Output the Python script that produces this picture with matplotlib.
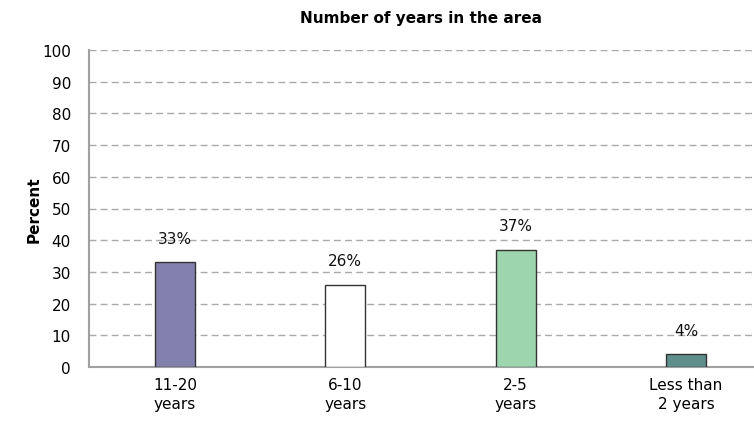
import matplotlib.pyplot as plt
import numpy as np

categories = ["11-20\nyears", "6-10\nyears", "2-5\nyears", "Less than\n2 years"]
percent = [33, 26, 37, 4]
colors = ["#8480ad", "#ffffff", "#9dd5ae", "#5f8f8b"]
yticks = list(range(0, 101, 10))

plt.rcParams["font.family"] = "DejaVu Sans"

fig = plt.figure(figsize=(7.54, 4.27), dpi=100)
ax = fig.add_axes([89 / 754, 1 - 368 / 427, 665 / 754, (368 - 51) / 427])

x = np.arange(len(categories))
bars = ax.bar(x, percent, width=0.235, color=colors, edgecolor="#333333",
              linewidth=1.0, zorder=3)

# value labels sit a little above each bar
for bar, v in zip(bars, percent):
    ax.annotate(f"{v}%", (bar.get_x() + bar.get_width() / 2, v),
                xytext=(0, 12), textcoords="offset points",
                ha="center", va="bottom", fontsize=11, color="#111111")

ax.set_ylim(0, 100)
ax.set_xlim(-0.505, 3.4)
ax.set_yticks(yticks)
ax.set_xticks(x)
ax.set_xticklabels(categories, fontsize=11, linespacing=1.35)
ax.tick_params(axis="both", length=0, labelsize=11)
ax.tick_params(axis="y", pad=13)
ax.tick_params(axis="x", pad=7)

ax.yaxis.grid(True, linestyle=(0, (5, 3)), color="#a9a9a9", linewidth=1.0, zorder=0)
ax.set_axisbelow(True)
for side in ["top", "right"]:
    ax.spines[side].set_visible(False)
ax.spines["left"].set_color("#a0a0a0")
ax.spines["bottom"].set_color("#a0a0a0")
ax.spines["left"].set_linewidth(1.5)
ax.spines["bottom"].set_linewidth(1.5)

ax.set_ylabel("Percent", fontsize=11, fontweight="bold")
ax.yaxis.set_label_coords(-0.071, 0.5)
ax.set_title("Number of years in the area", fontsize=11, fontweight="bold", pad=20)

fig.savefig("out.png", dpi=100)
